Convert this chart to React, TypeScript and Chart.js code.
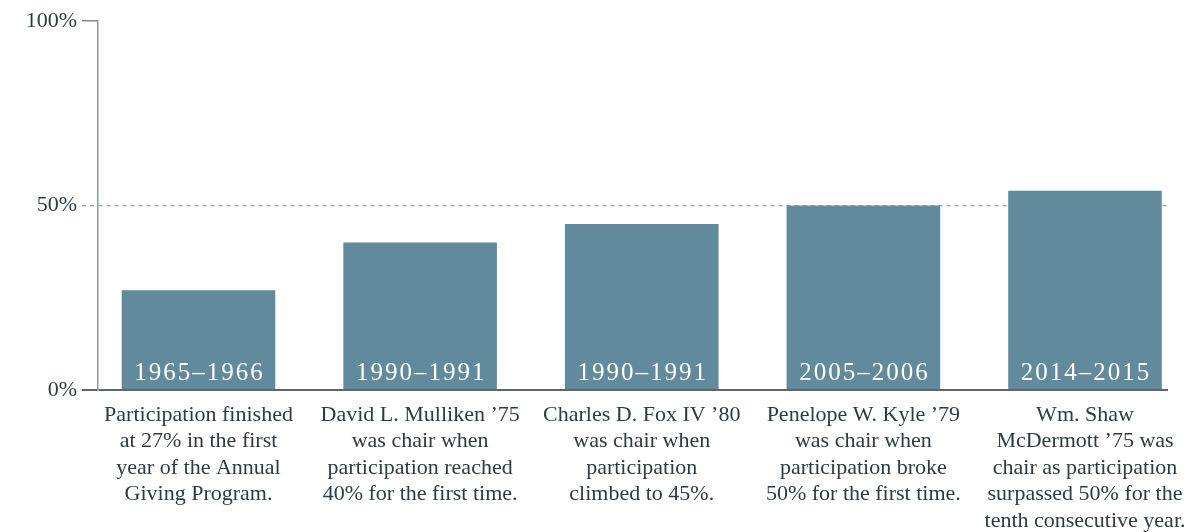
import React, { useEffect, useRef } from 'react';
import { Chart, registerables } from 'chart.js';

Chart.register(...registerables);

const CATEGORY_LABELS: string[][] = [
  ['Participation finished', 'at 27% in the first', 'year of the Annual', 'Giving Program.'],
  ['David L. Mulliken ’75', 'was chair when', 'participation reached', '40% for the first time.'],
  ['Charles D. Fox IV ’80', 'was chair when', 'participation', 'climbed to 45%.'],
  ['Penelope W. Kyle ’79', 'was chair when', 'participation broke', '50% for the first time.'],
  ['Wm. Shaw', 'McDermott ’75 was', 'chair as participation', 'surpassed 50% for the', 'tenth consecutive year.'],
];
const YEAR_LABELS: string[] = ['1965–1966', '1990–1991', '1990–1991', '2005–2006', '2014–2015'];
const PARTICIPATION: number[] = [27, 40, 45, 50, 54];
const Y_MIN = 0;
const Y_MAX = 100;
const Y_STEP = 50;

const FONT = '"Liberation Serif", "DejaVu Serif", serif';
const BAR_COLOR = '#628a9d';
const TEXT_COLOR = '#2d3b43';

const barLabelPlugin = {
  id: 'barLabels',
  afterDatasetsDraw(chart: any) {
    const ctx = chart.ctx;
    const meta = chart.getDatasetMeta(0);
    ctx.save();
    ctx.font = `25px ${FONT}`;
    ctx.fillStyle = '#ffffff';
    ctx.textAlign = 'center';
    ctx.textBaseline = 'alphabetic';
    (ctx as any).letterSpacing = '2px';
    meta.data.forEach((el: any, i: number) => {
      ctx.fillText(YEAR_LABELS[i], el.x + 1, el.base - 9);
    });
    ctx.restore();
  },
};

export default function App() {
  const canvasRef = useRef<HTMLCanvasElement | null>(null);

  useEffect(() => {
    const prevMargin = document.body.style.margin;
    document.body.style.margin = '0';
    if (!canvasRef.current) return;
    const chart = new Chart(canvasRef.current, {
      type: 'bar',
      data: {
        datasets: [
          {
            data: PARTICIPATION.map((v, i) => ({ x: i, y: v })),
            backgroundColor: BAR_COLOR,
            borderWidth: 0,
            barPercentage: 0.693,
            categoryPercentage: 1,
          } as any,
        ],
      },
      options: {
        animation: false,
        responsive: true,
        maintainAspectRatio: false,
        layout: { padding: { top: 21, right: 20, left: 0, bottom: 0 } },
        plugins: { legend: { display: false }, tooltip: { enabled: false } },
        scales: {
          x: {
            type: 'linear',
            offset: false,
            min: -0.4535,
            max: 4.3745,
            grid: { display: false, offset: false },
            border: { display: false },
            ticks: {
              stepSize: 1,
              includeBounds: false,
              autoSkip: false,
              maxRotation: 0,
              minRotation: 0,
              padding: 4,
              color: TEXT_COLOR,
              font: { family: FONT, size: 22, lineHeight: 1.2 },
              callback: (v: any) => CATEGORY_LABELS[v] ?? '',
            },
            afterFit: (s: any) => {
              s.height = 142;
              s.paddingLeft = 0;
              s.paddingRight = 0;
            },
          } as any,
          y: {
            min: Y_MIN,
            max: Y_MAX,
            z: 1,
            ticks: {
              stepSize: Y_STEP,
              padding: 5,
              color: TEXT_COLOR,
              font: { family: FONT, size: 22 },
              callback: (v: any) => v + '%',
            },
            grid: {
              drawTicks: true,
              tickLength: 16,
              color: (c: any) =>
                c.tick?.value === 50 ? '#a7b0b5' : c.tick?.value === 0 ? '#5f6569' : 'rgba(0,0,0,0)',
              lineWidth: (c: any) => (c.tick?.value === 0 ? 2 : 1.5),
              tickColor: (c: any) =>
                c.tick?.value === 50 ? '#a7b0b5' : c.tick?.value === 0 ? '#5f6569' : '#7f8a90',
              tickWidth: (c: any) => (c.tick?.value === 0 ? 2 : 1.5),
              tickBorderDash: (c: any) => (c.tick?.value === 50 ? [4, 4] : []),
            },
            border: {
              display: true,
              color: '#8c969b',
              width: 1.5,
              dash: (c: any) => (c.tick && c.tick.value === 50 ? [4, 4] : []),
            },
            afterFit: (s: any) => {
              s.width = 98;
              s.paddingTop = 0;
              s.paddingBottom = 0;
            },
          } as any,
        },
      },
      plugins: [barLabelPlugin],
    });
    return () => {
      chart.destroy();
      document.body.style.margin = prevMargin;
    };
  }, []);

  return (
    <div style={{ width: '1188px', height: '532px', position: 'relative', overflow: 'hidden' }}>
      <canvas ref={canvasRef} />
    </div>
  );
}
